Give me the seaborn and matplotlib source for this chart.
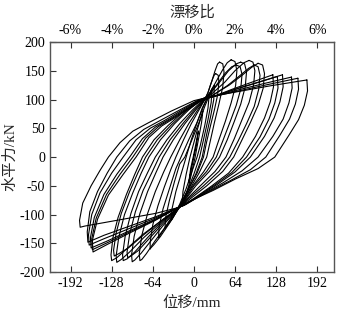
import matplotlib
matplotlib.use('Agg')
import matplotlib.pyplot as plt
import seaborn as sns

# hysteresis loops: displacement (mm), force (kN)
loop1_x = [176, 177, 172, 163, 148, 126, 100, 65, 30, -5, -25, -60, -100, -140, -170, -177, -178, -173, -160, -146, -133, -115, -95, -70, -35, 0, 30, 70, 120, 176]
loop1_y = [134, 115, 90, 65, 38, 0, -20, -38, -58, -76, -88, -98, -106, -114, -120, -122, -110, -80, -50, -23, 0, 25, 45, 60, 80, 98, 106, 114, 124, 134]

loop2_x = [162, 163, 158, 149, 134, 112, 88, 55, 20, -10, -25, -60, -100, -140, -165, -166, -162, -150, -135, -120, -100, -78, -55, -25, 5, 30, 70, 115, 162]
loop2_y = [137, 118, 92, 66, 38, 0, -22, -42, -62, -80, -88, -104, -120, -136, -148, -130, -95, -60, -28, 0, 28, 48, 62, 80, 98, 105, 115, 126, 137]

loop3_x = [152, 153, 148, 139, 123, 100, 75, 45, 12, -12, -25, -60, -100, -140, -163, -164, -159, -146, -128, -110, -90, -68, -45, -18, 8, 30, 70, 110, 152]
loop3_y = [139, 120, 94, 66, 36, 0, -24, -45, -66, -82, -88, -106, -124, -142, -153, -135, -100, -62, -28, 0, 30, 50, 64, 82, 99, 105, 117, 128, 139]

loop4_x = [138, 139, 134, 125, 110, 88, 64, 36, 5, -15, -25, -60, -100, -135, -160, -161, -155, -140, -120, -100, -80, -60, -38, -12, 12, 30, 65, 100, 138]
loop4_y = [143, 122, 96, 68, 36, 0, -26, -48, -70, -84, -88, -108, -128, -146, -158, -140, -105, -65, -30, 0, 32, 52, 66, 84, 100, 105, 118, 130, 143]

loopC_x = [130, 131, 126, 117, 103, 82, 59, 32, 2, -16, -25, -60, -100, -135, -158, -159, -152, -136, -115, -95, -75, -55, -34, -8, 13, 30, 62, 95, 130]
loopC_y = [140, 120, 94, 66, 35, 0, -27, -49, -71, -84, -88, -109, -130, -149, -161, -142, -106, -65, -30, 0, 33, 53, 67, 85, 100, 105, 117, 128, 140]

loop5_x = [123, 124, 119, 110, 96, 76, 54, 28, 0, -18, -25, -60, -100, -135, -157, -158, -150, -133, -110, -90, -70, -50, -30, -5, 15, 30, 60, 90, 123]
loop5_y = [143, 122, 96, 68, 36, 0, -28, -50, -72, -85, -88, -110, -132, -152, -165, -145, -108, -66, -30, 0, 34, 54, 68, 86, 100, 105, 118, 130, 143]

loop6_x = [100, 107, 110, 108, 100, 88, 75, 62, 45, 20, -5, -22, -50, -80, -105, -120, -128, -129, -126, -118, -105, -92, -80, -62, -40, -15, 10, 30, 55, 75, 90, 100]
loop6_y = [163, 160, 145, 120, 90, 60, 30, 0, -25, -50, -72, -87, -110, -135, -160, -175, -180, -170, -140, -105, -65, -30, 0, 30, 55, 80, 100, 108, 125, 142, 156, 163]

loopA_x = [94, 100, 103, 101, 94, 82, 69, 56, 39, 15, -8, -22, -50, -78, -102, -117, -124, -125, -121, -113, -100, -87, -75, -57, -35, -12, 11, 29, 52, 70, 85, 94]
loopA_y = [160, 157, 142, 118, 88, 58, 28, 0, -25, -50, -72, -87, -110, -135, -158, -168, -172, -162, -132, -98, -60, -27, 0, 30, 56, 80, 99, 107, 124, 140, 154, 160]

loop7_x = [86, 92, 95, 93, 86, 75, 63, 50, 33, 10, -10, -22, -50, -78, -100, -113, -120, -121, -117, -108, -95, -82, -70, -52, -30, -8, 12, 28, 48, 64, 78, 86]
loop7_y = [168, 165, 150, 125, 95, 65, 32, 0, -25, -50, -72, -87, -112, -140, -165, -178, -183, -172, -140, -100, -62, -28, 0, 30, 58, 82, 100, 110, 130, 150, 164, 168]

loop8_x = [73, 79, 82, 80, 73, 63, 52, 40, 24, 3, -12, -22, -48, -72, -92, -104, -110, -111, -107, -98, -86, -72, -60, -42, -22, -2, 15, 25, 40, 54, 66, 73]
loop8_y = [165, 162, 148, 122, 92, 62, 30, 0, -25, -50, -72, -87, -112, -140, -165, -177, -180, -170, -138, -98, -60, -27, 0, 30, 58, 82, 100, 110, 130, 150, 162, 165]

loopB_x = [66, 72, 75, 73, 66, 56, 45, 35, 20, 0, -13, -22, -46, -68, -87, -98, -103, -104, -100, -91, -79, -65, -54, -37, -18, 0, 16, 25, 37, 49, 59, 66]
loopB_y = [160, 157, 144, 118, 90, 60, 28, 0, -25, -50, -72, -87, -113, -140, -163, -172, -175, -165, -134, -95, -58, -26, 0, 30, 57, 81, 99, 110, 128, 146, 157, 160]

loop9_x = [58, 64, 67, 65, 58, 49, 39, 30, 15, -3, -15, -22, -45, -65, -82, -92, -96, -97, -93, -84, -72, -59, -48, -32, -14, 3, 17, 25, 35, 45, 52, 58]
loop9_y = [169, 166, 150, 124, 94, 62, 30, 0, -26, -52, -72, -87, -115, -143, -167, -179, -182, -170, -138, -98, -60, -27, 0, 30, 58, 82, 100, 112, 132, 152, 164, 169]

loop10_x = [40, 45, 47, 45, 39, 32, 26, 20, 8, -6, -16, -24, -42, -60, -74, -81, -84, -85, -81, -72, -60, -47, -36, -22, -8, 6, 17, 22, 28, 33, 37, 40]
loop10_y = [165, 162, 148, 122, 92, 60, 30, 0, -28, -55, -75, -90, -118, -145, -168, -178, -180, -168, -136, -98, -60, -26, 0, 30, 58, 82, 100, 112, 132, 150, 162, 165]

loopD_x = [34, 38, 39, 37, 32, 26, 20, 15, 5, -8, -17, -24, -38, -52, -62, -67, -68, -68, -64, -56, -46, -36, -28, -16, -4, 8, 17, 22, 26, 30, 32, 34]
loopD_y = [145, 142, 130, 108, 82, 55, 27, 0, -28, -55, -75, -90, -115, -138, -152, -158, -160, -148, -118, -85, -52, -22, 0, 30, 58, 82, 100, 112, 126, 138, 143, 145]

loop11_x = [32, 31, 26, 20, 13, 3, -8, -20, -35, -48, -55, -54, -48, -38, -28, -20, -8, 5, 15, 23, 32]
loop11_y = [125, 100, 70, 40, 0, -30, -55, -80, -105, -128, -140, -120, -90, -55, -20, 0, 30, 60, 88, 108, 125]

loopE_x = [28, 27, 22, 16, 9, 0, -10, -22, -34, -42, -45, -44, -38, -30, -22, -14, -3, 8, 17, 28]
loopE_y = [118, 95, 65, 35, 0, -30, -58, -85, -108, -120, -125, -105, -75, -42, -12, 0, 30, 60, 88, 118]

loop12_x = [24, 22, 17, 10, 5, -3, -12, -22, -30, -35, -34, -28, -20, -12, -4, 5, 13, 24]
loop12_y = [110, 85, 55, 20, 0, -25, -55, -82, -100, -110, -90, -60, -30, 0, 30, 60, 85, 110]

loop13_x = [14, 12, 7, 2, -3, -8, -13, -18, -17, -12, -6, 0, 6, 14]
loop13_y = [80, 60, 30, 0, -25, -50, -68, -80, -60, -30, 0, 25, 50, 80]

loop14_x = [7, 4, 0, -4, -8, -5, -1, 3, 7]
loop14_y = [45, 20, 0, -22, -45, -20, 0, 22, 45]

loops = [(loop1_x, loop1_y), (loop2_x, loop2_y), (loop3_x, loop3_y), (loop4_x, loop4_y),
         (loopC_x, loopC_y), (loop5_x, loop5_y), (loop6_x, loop6_y), (loopA_x, loopA_y),
         (loop7_x, loop7_y), (loop8_x, loop8_y), (loopB_x, loopB_y), (loop9_x, loop9_y),
         (loop10_x, loop10_y), (loopD_x, loopD_y), (loop11_x, loop11_y), (loopE_x, loopE_y),
         (loop12_x, loop12_y), (loop13_x, loop13_y), (loop14_x, loop14_y)]

x_ticks = [-192, -128, -64, 0, 64, 128, 192]
y_ticks = [-200, -150, -100, -50, 0, 50, 100, 150, 200]
drift_ticks = [-6, -4, -2, 0, 2, 4, 6]

sns.set_style('ticks')
plt.rcParams['font.family'] = ['Liberation Serif', 'Noto Sans CJK SC']
plt.rcParams['axes.unicode_minus'] = False

fig = plt.figure(figsize=(3.4, 3.11), dpi=100)
ax = fig.add_axes([0.147, 0.125, 0.835, 0.74])

for lx, ly in loops:
    sns.lineplot(x=lx, y=ly, sort=False, estimator=None, color='black', lw=0.8, ax=ax)

ax.set_xlim(-224, 218)
ax.set_ylim(-200, 200)
ax.set_xticks(x_ticks)
ax.set_yticks(y_ticks)
ax.tick_params(direction='in', length=4, width=0.8, labelsize=10, colors='#333333', labelcolor='black')
ax.tick_params(axis='x', top=False)
for s in ax.spines.values():
    s.set_color('#555555')
    s.set_linewidth(1.0)
ax.set_xlabel('位移/mm', fontsize=11, labelpad=4)
ax.set_ylabel('水平力/kN', fontsize=11, labelpad=2)

# drift ratio axis: 64 mm = 2 %
top = ax.secondary_xaxis('top', functions=(lambda x: x / 32.0, lambda x: x * 32.0))
top.set_xticks(drift_ticks)
top.set_xticklabels([f'{t}%' for t in drift_ticks])
top.tick_params(direction='in', length=4, width=0.8, labelsize=10, colors='#333333', labelcolor='black')
top.set_xlabel('漂移比', fontsize=11, labelpad=5)

fig.savefig('out.png', dpi=100)
